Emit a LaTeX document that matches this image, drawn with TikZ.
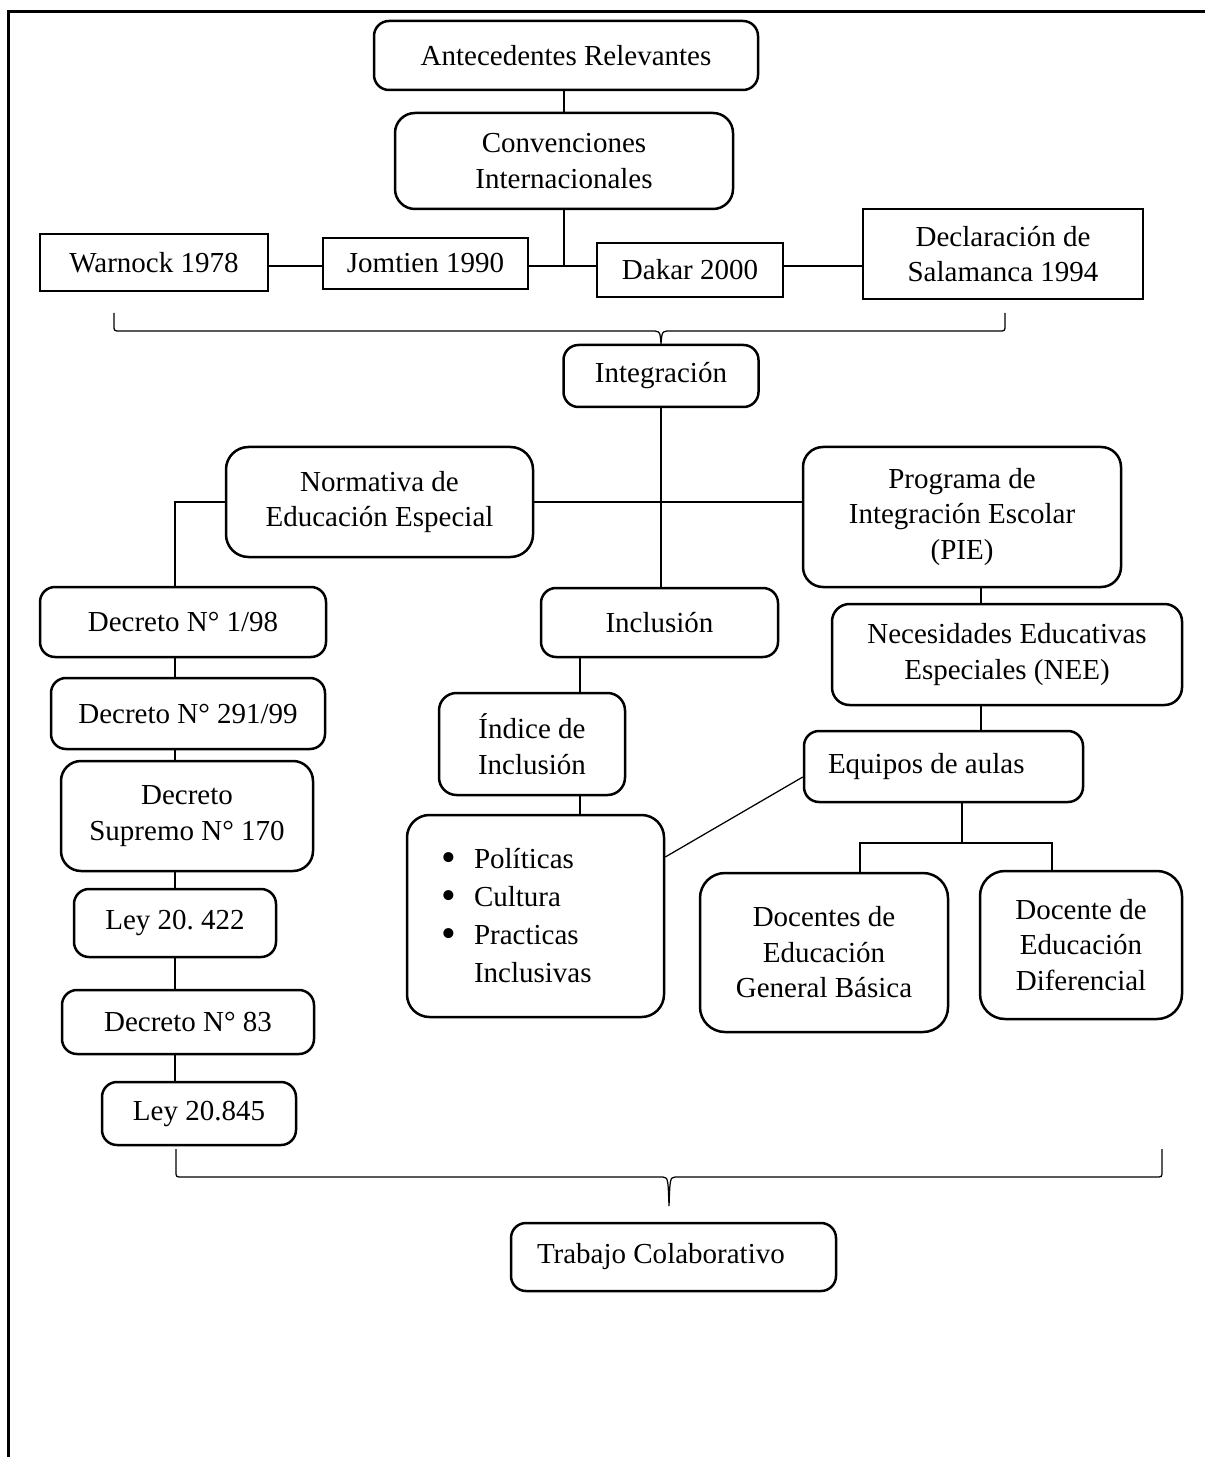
\documentclass[tikz,border=0pt]{standalone}
\usepackage{fontspec}
\setmainfont{Liberation Serif}
\usetikzlibrary{calc}
\tikzset{
  every node/.style={font=\fontsize{11.6}{14.2}\selectfont, align=center, inner sep=0pt},
  sz/.style n args={2}{minimum width=#1*0.4pt, minimum height=#2*0.4pt},
  rbox/.style={draw, line width=1pt, rounded corners=#1},
  rbox/.default=6pt,
  sbox/.style={draw, line width=0.7pt},
  conn/.style={line width=0.5pt},
  frame/.style={line width=1.2pt}
}
\newcommand{\bigbul}{\makebox[13.2pt][l]{\raisebox{-0.9pt}{\scalebox{1.45}{\textbullet}}}}
\begin{document}
\frenchspacing
\begin{tikzpicture}[x=0.4pt,y=-0.4pt]
\useasboundingbox (0,0) rectangle (1205,1457);
\draw[frame] (1205,11.5) -- (8.5,11.5) -- (8.5,1457);

% top
\node[rbox, sz={384}{69}] (ant) at (566,55.5) {Antecedentes Relevantes};
\node[rbox=8pt, sz={338}{96}] (conv) at (564,161) {Convenciones\\Internacionales};
\node[sbox, sz={228}{57}] (warn) at (154,262.5) {Warnock 1978};
\node[sbox, sz={205}{51}] (jom) at (425.5,263.5) {Jomtien 1990};
\node[sbox, sz={186}{54}] (dak) at (690,270) {Dakar 2000};
\node[sbox, sz={280}{90}] (sal) at (1003,254) {Declaración de\\Salamanca 1994};
\node[rbox, sz={195}{62}] (integ) at (661,376) {Integración};

% middle
\node[rbox=9pt, sz={307}{110}] (norm) at (379.5,502) {Normativa de\\Educación Especial};
\node[rbox=8pt, sz={318}{140}] (prog) at (962,517) {Programa de\\Integración Escolar\\(PIE)};
\node[rbox, sz={237}{69}] (incl) at (659.5,622.5) {Inclusión};
\node[rbox=7pt, sz={350}{101}] (nee) at (1007,654.5) {Necesidades Educativas\\Especiales (NEE)};

% left chain
\node[rbox, sz={286}{70}] (d198) at (183,622) {Decreto N° 1/98};
\node[rbox, sz={274}{71}] (d291) at (188,713.5) {Decreto N° 291/99};
\node[rbox=8pt, sz={252}{110}] (ds170) at (187,816) {Decreto\\Supremo N° 170};
\node[rbox, sz={202}{68}] (l422) at (175,923) {Ley 20. 422};
\node[rbox, sz={252}{64}] (d83) at (188,1022) {Decreto N° 83};
\node[rbox, sz={194}{63}] (l845) at (199,1113.5) {Ley 20.845};

% centre
\node[rbox=7pt, sz={186}{102}] (indice) at (532,744) {Índice de\\Inclusión};
\node[rbox=9pt, sz={257}{202}, text width=75.6pt, align=flush left, inner xsep=13.6pt,
      font=\fontsize{11.6}{15.2}\selectfont] (pol) at (535.5,916)
  {\bigbul Políticas\\
   \bigbul Cultura\\
   \bigbul Practicas\\
   \hspace*{13.2pt}Inclusivas};

% right
\node[rbox, sz={279}{71}, text width=92.4pt, align=flush left, inner xsep=9.6pt] (equip) at (943.5,766.5) {Equipos de aulas};
\node[rbox=10pt, sz={248}{159}] (egb) at (824,952.5) {Docentes de\\Educación\\General Básica};
\node[rbox=10pt, sz={202}{148}] (dif) at (1081,945) {Docente de\\Educación\\Diferencial};

% bottom
\node[rbox, sz={325}{68}, text width=109.2pt, align=flush left, inner xsep=10.4pt] (trab) at (673.5,1257) {Trabajo Colaborativo};

% connectors
\coordinate (j1) at (564,266);
\draw[conn] (ant.south -| conv.north) -- (conv.north);
\draw[conn] (conv.south) -- (j1);
\draw[conn] (warn.east |- j1) -- (jom.west |- j1);
\draw[conn] (jom.east |- j1) -- (dak.west |- j1);
\draw[conn] (dak.east |- j1) -- (sal.west |- j1);

% top brace
\coordinate (bl) at (114,313);
\coordinate (br) at (1005,313);
\draw[conn] (bl) -- (114,325) .. controls (114,331) .. (120,331) -- (655,331)
  .. controls (660,332) .. (integ.north) .. controls (662,332) .. (667,331)
  -- (999,331) .. controls (1005,331) .. (1005,325) -- (br);

\draw[conn] (integ.south) -- (integ.south |- incl.north);
\draw[conn] (norm.east) -- (norm.east -| prog.west);

\coordinate (lx) at (175,0);
\draw[conn] (norm.west) -| (lx |- d198.north);
\draw[conn] (lx |- d198.south) -- (lx |- d291.north);
\draw[conn] (lx |- d291.south) -- (lx |- ds170.north);
\draw[conn] (lx |- ds170.south) -- (lx |- l422.north);
\draw[conn] (lx |- l422.south) -- (lx |- d83.north);
\draw[conn] (lx |- d83.south) -- (lx |- l845.north);

\coordinate (ix) at (580,0);
\draw[conn] (ix |- incl.south) -- (ix |- indice.north);
\draw[conn] (ix |- indice.south) -- (ix |- pol.north);

\coordinate (py) at (0,857);
\coordinate (ey) at (0,777);
\draw[conn] (pol.east |- py) -- (equip.west |- ey);

\coordinate (px) at (981,0);
\draw[conn] (px |- prog.south) -- (px |- nee.north);
\draw[conn] (px |- nee.south) -- (px |- equip.north);

\coordinate (ex) at (962,843);
\coordinate (gx) at (860,0);
\coordinate (fx) at (1052,0);
\draw[conn] (ex |- equip.south) -- (ex);
\draw[conn] (gx |- egb.north) -- (gx |- ex) -- (fx |- ex) -- (fx |- dif.north);

% bottom brace
\coordinate (cl) at (176,1149);
\coordinate (cr) at (1162,1149);
\coordinate (btip) at (669,1206);
\draw[conn] (cl) -- (176,1171) .. controls (176,1177) .. (182,1177) -- (663,1177)
  .. controls (668,1178) .. (btip) .. controls (670,1178) .. (675,1177)
  -- (1156,1177) .. controls (1162,1177) .. (1162,1171) -- (cr);
\end{tikzpicture}
\end{document}
